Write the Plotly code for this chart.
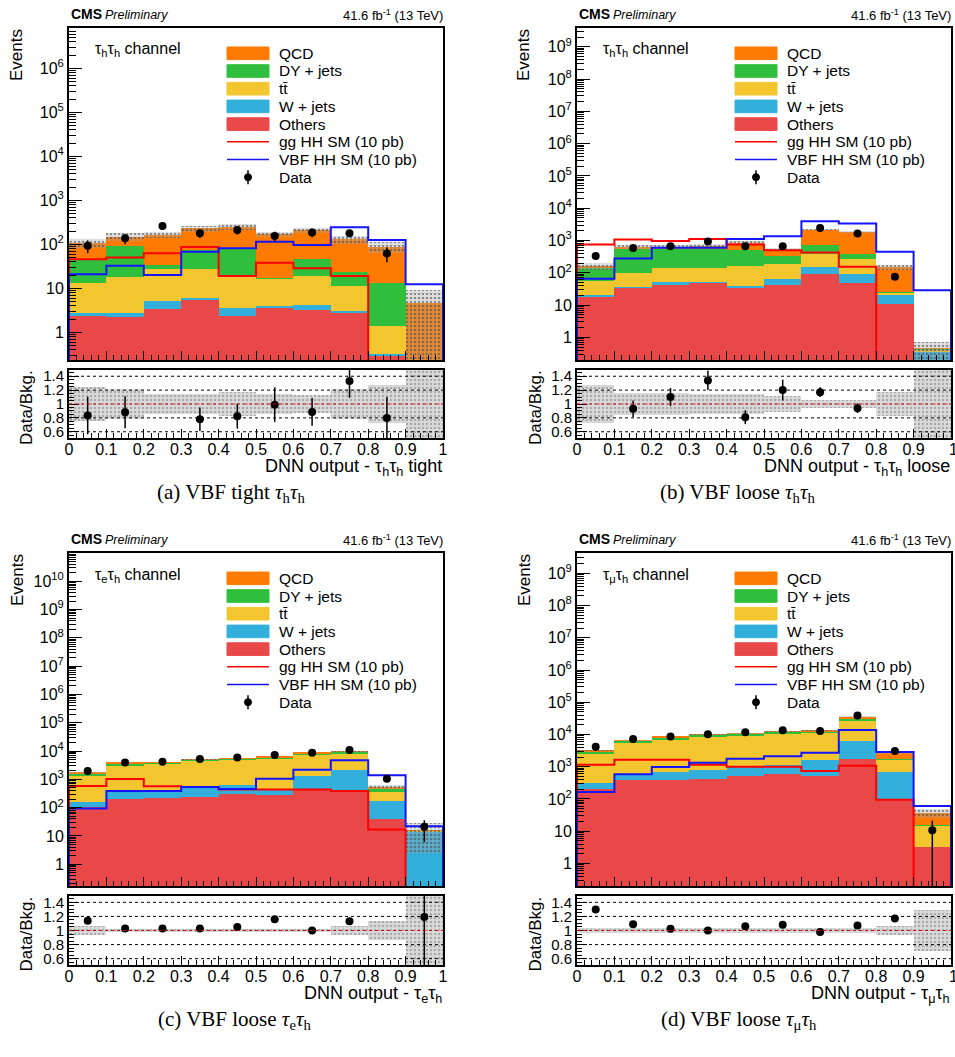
import plotly.graph_objects as go

W, H = 955, 1057

# ---------------- data ----------------
bin_edges = [0.0, 0.1, 0.2, 0.3, 0.4, 0.5, 0.6, 0.7, 0.8, 0.9, 1.0]
bin_centers = [0.05, 0.15, 0.25, 0.35, 0.45, 0.55, 0.65, 0.75, 0.85, 0.95]
x_tick_labels = ["0", "0.1", "0.2", "0.3", "0.4", "0.5", "0.6", "0.7", "0.8", "0.9", "1"]
ratio_tick_vals = [0.6, 0.8, 1.0, 1.2, 1.4]
ratio_tick_labels = ["0.6", "0.8", "1", "1.2", "1.4"]

process_names = ["Others", "W + jets", "tt\u0304", "DY + jets", "QCD"]
process_colors = ["#e84848", "#33afdc", "#f3c52f", "#2fbf3d", "#ff7a00"]

# (a) VBF tight tau_h tau_h
a_others = [2.35, 2.27, 3.45, 5.6, 2.4, 3.5, 3.3, 2.85, 0.3, 0]
a_wjets = [0.35, 0.43, 1.75, 0.5, 1.2, 0.46, 0.9, 0.25, 0.02, 0]
a_ttbar = [10.7, 15.7, 21.8, 21.9, 15.4, 12.8, 14.8, 8.2, 1.1, 0]
a_dy = [32.2, 73.6, 7.0, 46, 59, 0.7, 27, 12.7, 12.0, 0]
a_qcd = [63, 57, 129, 156, 174, 151, 166, 106, 75, 4.6]
a_gghh = [46, 50, 63, 87, 19, 38, 28.5, 19, 0, 0]
a_vbfhh = [20.8, 32.7, 20, 68, 81, 115, 97, 244, 126, 12.3]
a_data = [93, 137, 260, 178, 212, 155, 187, 178, 62, None]
a_data_err = [30, 36, 47, 39, 46, 39, 42, 32, 23, 0]
a_unc = [0.24, 0.21, 0.15, 0.15, 0.17, 0.15, 0.13, 0.21, 0.27, 1.0]
a_ratio = [0.834, 0.88, None, 0.78, 0.825, 0.99, 0.886, 1.33, 0.80, None]
a_ratio_err = [0.27, 0.23, 0, 0.17, 0.18, 0.25, 0.20, 0.24, 0.30, 0]

# (b) VBF loose tau_h tau_h
b_others = [19, 35, 41.5, 49, 36, 41.5, 91, 50, 10.7, 0]
b_wjets = [1, 1, 10.5, 2, 4, 23.5, 55, 45, 9.3, 0.36]
b_ttbar = [37, 64, 93, 94, 128, 129, 249, 165, 4.5, 0.07]
b_dy = [93, 460, 415, 415, 357, 131, 320, 115, 1, 0.01]
b_qcd = [14, 70, 70, 120, 340, 200, 1465, 1475, 127.5, 0.02]
b_gghh = [750, 1070, 970, 1120, 750, 500, 425, 153, 0, 0]
b_vbfhh = [66, 275, 600, 600, 1120, 1350, 3950, 3350, 445, 29]
b_data = [330, 590, 665, 930, 665, 665, 2450, 1650, 75, None]
b_data_err = [33, 76, 82, 95, 87, 79, 150, 130, 15, 0]
b_unc = [0.27, 0.16, 0.16, 0.15, 0.14, 0.12, 0.06, 0.06, 0.18, 0.6]
b_ratio = [None, 0.93, 1.10, 1.34, 0.81, 1.20, 1.17, 0.94, None, None]
b_ratio_err = [0, 0.12, 0.13, 0.14, 0.10, 0.15, 0.07, 0.07, 0, 0]

# (c) VBF loose tau_e tau_h
c_others = [107, 210, 227, 240, 300, 270, 470, 410, 39, 0]
c_wjets = [53, 150, 163, 300, 320, 165, 810, 1790, 131, 14]
c_ttbar = [1120, 2520, 3160, 3910, 4430, 5215, 6120, 5800, 190, 1]
c_dy = [310, 670, 400, 450, 450, 350, 1100, 1300, 110, 0.5]
c_qcd = [140, 250, 150, 200, 100, 250, 200, 400, 70, 0.5]
c_gghh = [585, 1030, 570, 540, 435, 435, 435, 390, 17, 0]
c_vbfhh = [93, 390, 390, 540, 460, 1050, 2200, 4700, 1390, 22]
c_data = [1970, 3910, 4220, 5250, 5880, 7250, 8700, 10960, 1050, 21]
c_data_err = [45, 63, 65, 72, 77, 85, 93, 105, 32, 15]
c_unc = [0.07, 0.025, 0.025, 0.025, 0.025, 0.02, 0.02, 0.06, 0.14, 0.85]
c_ratio = [1.14, 1.03, 1.03, 1.03, 1.05, 1.16, 1.00, 1.13, None, 1.19]
c_ratio_err = [0.025, 0.017, 0.016, 0.014, 0.014, 0.014, 0.011, 0.011, 0, 0.9]

# (d) VBF loose tau_mu tau_h
d_others = [209, 400, 400, 425, 500, 580, 500, 1730, 95, 3.3]
d_wjets = [101, 180, 290, 385, 480, 520, 1080, 4770, 595, 0]
d_ttbar = [2190, 4820, 6510, 7890, 8320, 9900, 9920, 20500, 960, 11.7]
d_dy = [550, 1100, 900, 1100, 1200, 1000, 1200, 2500, 150, 0.3]
d_qcd = [150, 200, 300, 400, 500, 500, 300, 6500, 850, 21.7]
d_gghh = [1150, 1650, 1650, 1150, 1000, 990, 740, 1070, 95, 0]
d_vbfhh = [165, 580, 980, 1320, 1780, 2100, 2700, 13800, 2850, 61]
d_data = [4160, 7300, 8610, 10200, 11660, 13500, 12740, 38500, 3100, 10.7]
d_data_err = [130, 85, 93, 100, 108, 116, 113, 196, 130, 10.6]
d_unc = [0.03, 0.03, 0.03, 0.03, 0.03, 0.03, 0.03, 0.03, 0.06, 0.29]
d_ratio = [1.30, 1.09, 1.025, 1.0, 1.06, 1.08, 0.98, 1.07, 1.17, None]
d_ratio_err = [0.04, 0.013, 0.011, 0.01, 0.01, 0.009, 0.009, 0.005, 0.05, 0]

# ---------------- layout geometry (pixels) ----------------
FONT = "Liberation Sans, Arial, sans-serif"
SERIF = "Liberation Serif, Times New Roman, serif"


def fx(x):
    return x / W


def fy(y):
    return 1 - y / H


panels = [
    dict(n=1, x0=69, x1=443, m0=28, m1=360, r0=370, r1=438, ylog=(-0.63, 6.92), dmax=6,
         comps=[a_others, a_wjets, a_ttbar, a_dy, a_qcd], gg=a_gghh, vbf=a_vbfhh,
         data=a_data, derr=a_data_err, unc=a_unc, ratio=a_ratio, rerr=a_ratio_err,
         chan="τ<sub>h</sub>τ<sub>h</sub> channel",
         xtitle="DNN output - τ<sub>h</sub>τ<sub>h</sub> tight",
         caption="(a) VBF tight <i>τ</i><sub>h</sub><i>τ</i><sub>h</sub>", capx=231),
    dict(n=3, x0=577, x1=951, m0=28, m1=360, r0=370, r1=438, ylog=(-0.70, 9.58), dmax=9,
         comps=[b_others, b_wjets, b_ttbar, b_dy, b_qcd], gg=b_gghh, vbf=b_vbfhh,
         data=b_data, derr=b_data_err, unc=b_unc, ratio=b_ratio, rerr=b_ratio_err,
         chan="τ<sub>h</sub>τ<sub>h</sub> channel",
         xtitle="DNN output - τ<sub>h</sub>τ<sub>h</sub> loose",
         caption="(b) VBF loose <i>τ</i><sub>h</sub><i>τ</i><sub>h</sub>", capx=737),
    dict(n=5, x0=69, x1=443, m0=553, m1=886, r0=896, r1=965, ylog=(-0.77, 11.0), dmax=10,
         comps=[c_others, c_wjets, c_ttbar, c_dy, c_qcd], gg=c_gghh, vbf=c_vbfhh,
         data=c_data, derr=c_data_err, unc=c_unc, ratio=c_ratio, rerr=c_ratio_err,
         chan="τ<sub>e</sub>τ<sub>h</sub> channel",
         xtitle="DNN output - τ<sub>e</sub>τ<sub>h</sub>",
         caption="(c) VBF loose <i>τ</i><sub>e</sub><i>τ</i><sub>h</sub>", capx=234),
    dict(n=7, x0=577, x1=951, m0=553, m1=886, r0=896, r1=965, ylog=(-0.70, 9.63), dmax=9,
         comps=[d_others, d_wjets, d_ttbar, d_dy, d_qcd], gg=d_gghh, vbf=d_vbfhh,
         data=d_data, derr=d_data_err, unc=d_unc, ratio=d_ratio, rerr=d_ratio_err,
         chan="τ<sub>μ</sub>τ<sub>h</sub> channel",
         xtitle="DNN output - τ<sub>μ</sub>τ<sub>h</sub>",
         caption="(d) VBF loose <i>τ</i><sub>μ</sub><i>τ</i><sub>h</sub>", capx=739),
]

fig = go.Figure()
layout = dict(
    width=W, height=H, margin=dict(l=0, r=0, t=0, b=0, autoexpand=False),
    paper_bgcolor="white", plot_bgcolor="white",
    showlegend=False, barmode="stack", bargap=0,
    font=dict(family=FONT, color="black", size=15),
)
shapes = []
annotations = []

tickfont = dict(family=FONT, size=16, color="black")
rtickfont = dict(family=FONT, size=15, color="black")
x_minor = [round(i * 0.02, 2) for i in range(51) if i % 5 != 0]


def step_xy(vals, floor):
    xs = [0.0, 0.0] + bin_edges[1:] + [1.0]
    v = [max(x, floor) for x in vals]
    ys = [floor, v[0]] + v[1:] + [v[-1], floor]
    return xs, ys


for p in panels:
    n = p["n"]
    m, r = n, n + 1
    xm, ym = f"x{m}", f"y{m}"
    xr, yr = f"x{r}", f"y{r}"
    floor = 10 ** (p["ylog"][0] - 1)

    # stacked backgrounds
    for name, col, vals in zip(process_names, process_colors, p["comps"]):
        fig.add_trace(go.Bar(x=bin_centers, y=vals, width=0.1, name=name,
                             marker=dict(color=col, line=dict(width=0)),
                             xaxis=xm, yaxis=ym))
    total = [sum(c[i] for c in p["comps"]) for i in range(10)]
    base = [max(t * (1 - u), t * 1e-3) for t, u in zip(total, p["unc"])]
    top = [t * (1 + u) for t, u in zip(total, p["unc"])]
    fig.add_trace(go.Bar(x=bin_centers, y=[tp - b for tp, b in zip(top, base)], base=base,
                         width=0.1, name="Bkg. unc.",
                         marker=dict(color="rgba(150,150,150,0.35)", line=dict(width=0),
                                     pattern=dict(shape=".", fillmode="replace",
                                                  bgcolor="rgba(170,170,170,0.35)",
                                                  fgcolor="rgba(70,70,70,0.55)",
                                                  size=4, solidity=0.35)),
                         xaxis=xm, yaxis=ym))
    # signals
    gx, gy = step_xy(p["gg"], floor)
    fig.add_trace(go.Scatter(x=gx, y=gy, mode="lines", line=dict(color="#ff0000", width=2, shape="hv"),
                             name="gg HH SM (10 pb)", xaxis=xm, yaxis=ym))
    vx, vy = step_xy(p["vbf"], floor)
    fig.add_trace(go.Scatter(x=vx, y=vy, mode="lines", line=dict(color="#1414ff", width=2, shape="hv"),
                             name="VBF HH SM (10 pb)", xaxis=xm, yaxis=ym))
    # data
    fig.add_trace(go.Scatter(x=bin_centers, y=p["data"], mode="markers", name="Data",
                             marker=dict(color="black", size=8),
                             error_y=dict(type="data", array=p["derr"], color="black", thickness=1.5, width=0),
                             xaxis=xm, yaxis=ym))

    # ratio band + points
    rb = [1 - u for u in p["unc"]]
    fig.add_trace(go.Bar(x=bin_centers, y=[2 * u for u in p["unc"]], base=rb, width=0.1,
                         marker=dict(color="rgba(205,205,205,0.8)", line=dict(width=0),
                                     pattern=dict(shape=".", fillmode="replace",
                                                  bgcolor="rgba(212,212,212,0.85)",
                                                  fgcolor="rgba(150,150,150,0.7)",
                                                  size=4, solidity=0.3)),
                         xaxis=xr, yaxis=yr))
    fig.add_trace(go.Scatter(x=bin_centers, y=p["ratio"], mode="markers",
                             marker=dict(color="black", size=8),
                             error_y=dict(type="data", array=p["rerr"], color="black", thickness=1.5, width=0),
                             xaxis=xr, yaxis=yr))

    # axes
    xd = [fx(p["x0"]), fx(p["x1"])]
    decades = list(range(0, p["dmax"] + 1))
    yt_vals = [10 ** d for d in decades]
    yt_text = ["1", "10"] + [f"10<sup>{d}</sup>" for d in decades[2:]]
    minor_vals = [k * 10 ** d for d in range(-1, p["dmax"] + 2) for k in range(2, 10)]
    common = dict(showline=True, mirror=True, linewidth=2, linecolor="black", automargin=False,
                  showgrid=False, zeroline=False, tickcolor="black")
    right_panel = p["x0"] > 300
    layout[f"xaxis{m}"] = dict(domain=xd, anchor=ym, range=[0, 1], tickmode="array",
                               tickvals=bin_edges, showticklabels=False, ticks="inside", ticklen=9,
                               tickfont=tickfont,
                               minor=dict(tickmode="array", tickvals=x_minor, ticks="inside",
                                          ticklen=5, tickcolor="black"), **common)
    layout[f"yaxis{m}"] = dict(domain=[fy(p["m1"]), fy(p["m0"])], anchor=xm, type="log",
                               range=list(p["ylog"]), tickmode="array", tickvals=yt_vals,
                               ticktext=yt_text, ticks="inside", ticklen=13, tickfont=tickfont,
                               minor=dict(tickmode="array", tickvals=minor_vals, ticks="inside",
                                          ticklen=7, tickcolor="black"), **common)
    xr_vals = bin_edges[:-1] if right_panel else bin_edges
    xr_text = x_tick_labels[:-1] if right_panel else x_tick_labels
    layout[f"xaxis{r}"] = dict(domain=xd, anchor=yr, range=[0, 1], tickmode="array",
                               tickvals=xr_vals, ticktext=xr_text, ticks="inside", ticklen=9,
                               tickfont=tickfont, ticklabelstandoff=-4,
                               minor=dict(tickmode="array", tickvals=x_minor + [1.0], ticks="inside",
                                          ticklen=5, tickcolor="black"), **common)
    layout[f"yaxis{r}"] = dict(domain=[fy(p["r1"]), fy(p["r0"])], anchor=xr, range=[0.51, 1.49],
                               tickmode="array", tickvals=ratio_tick_vals, ticktext=ratio_tick_labels,
                               ticks="inside", ticklen=10, tickfont=rtickfont,
                               minor=dict(tickmode="array",
                                          tickvals=[0.55, 0.65, 0.7, 0.75, 0.85, 0.9, 0.95, 1.05,
                                                    1.1, 1.15, 1.25, 1.3, 1.35, 1.45],
                                          ticks="inside", ticklen=5, tickcolor="black"), **common)
    if right_panel:
        # last tick label "1" sits on the page edge; plotly would drop it
        annotations.append(dict(x=1.0, y=0, xref=xr, yref=f"{yr} domain", xanchor="left",
                                yanchor="top", xshift=-4, yshift=-1, showarrow=False, text="1",
                                font=tickfont))

    # ratio reference lines
    for v in [0.6, 0.8, 1.2, 1.4]:
        shapes.append(dict(type="line", xref=f"{xr} domain", yref=yr, x0=0, x1=1, y0=v, y1=v,
                           line=dict(color="black", width=1, dash="dot"), layer="above"))
    shapes.append(dict(type="line", xref=f"{xr} domain", yref=yr, x0=0, x1=1, y0=1, y1=1,
                       line=dict(color="#e00000", width=1.2, dash="dot"), layer="above"))

    # header texts
    x0, x1, m0 = p["x0"], p["x1"], p["m0"]
    annotations.append(dict(x=fx(x0), y=fy(m0 - 14), xref="paper", yref="paper", xanchor="left",
                            yanchor="middle", showarrow=False, text="<b>CMS</b>",
                            font=dict(family=FONT, size=14, color="black")))
    annotations.append(dict(x=fx(x0 + 34), y=fy(m0 - 13.5), xref="paper", yref="paper", xanchor="left",
                            yanchor="middle", showarrow=False, text="<i>Preliminary</i>",
                            font=dict(family=FONT, size=12.5, color="black")))
    annotations.append(dict(x=fx(x1 + 2), y=fy(m0 - 13.5), xref="paper", yref="paper", xanchor="right",
                            yanchor="middle", showarrow=False, text="41.6 fb<sup>-1</sup> (13 TeV)",
                            font=dict(family=FONT, size=13, color="black")))
    # axis titles
    ex = 17 if x0 < 300 else 524
    annotations.append(dict(x=fx(ex), y=fy(m0 + 27), xref="paper", yref="paper", xanchor="center",
                            yanchor="middle", showarrow=False, text="Events", textangle=-90,
                            font=dict(family=FONT, size=17, color="black")))
    dx = 26 if x0 < 300 else 535
    annotations.append(dict(x=fx(dx), y=fy((p["r0"] + p["r1"]) / 2 + 4), xref="paper", yref="paper",
                            xanchor="center", yanchor="middle", showarrow=False, text="Data/Bkg.",
                            textangle=-90, font=dict(family=FONT, size=17, color="black")))
    annotations.append(dict(x=fx(x1 + 1), y=fy(p["r1"] + 29), xref="paper", yref="paper", xanchor="right",
                            yanchor="middle", showarrow=False, text=p["xtitle"],
                            font=dict(family=FONT, size=18, color="black")))
    annotations.append(dict(x=fx(p["capx"]), y=fy(p["r1"] + 55), xref="paper", yref="paper",
                            xanchor="center", yanchor="middle", showarrow=False, text=p["caption"],
                            font=dict(family=SERIF, size=21, color="black")))
    # channel label
    annotations.append(dict(x=fx(x0 + 24), y=fy(m0 + 22), xref="paper", yref="paper", xanchor="left",
                            yanchor="middle", showarrow=False, text=p["chan"],
                            font=dict(family=FONT, size=16, color="black")))

    # legend
    bx0, bx1, tx = x0 + 158, x0 + 200, x0 + 208
    rows = [m0 + 25.3 + 17.7 * i for i in range(8)]
    leg_names = ["QCD", "DY + jets", "tt\u0304", "W + jets", "Others"]
    leg_cols = process_colors[::-1]
    for i, (nm, col) in enumerate(zip(leg_names, leg_cols)):
        yc = rows[i]
        shapes.append(dict(type="rect", xref="paper", yref="paper", x0=fx(bx0), x1=fx(bx1),
                           y0=fy(yc + 6.3), y1=fy(yc - 6.3), fillcolor=col,
                           line=dict(color=col, width=1)))
        annotations.append(dict(x=fx(tx), y=fy(yc), xref="paper", yref="paper", xanchor="left",
                                yanchor="middle", showarrow=False, text=nm,
                                font=dict(family=FONT, size=15.5, color="black")))
    for i, (nm, col) in enumerate([("gg HH SM (10 pb)", "#ff0000"), ("VBF HH SM (10 pb)", "#1414ff")]):
        yc = rows[5 + i]
        shapes.append(dict(type="line", xref="paper", yref="paper", x0=fx(bx0), x1=fx(bx1),
                           y0=fy(yc), y1=fy(yc), line=dict(color=col, width=1.5)))
        annotations.append(dict(x=fx(tx), y=fy(yc), xref="paper", yref="paper", xanchor="left",
                                yanchor="middle", showarrow=False, text=nm,
                                font=dict(family=FONT, size=15.5, color="black")))
    yc = rows[7]
    cx = (bx0 + bx1) / 2
    shapes.append(dict(type="line", xref="paper", yref="paper", x0=fx(cx), x1=fx(cx),
                       y0=fy(yc + 7), y1=fy(yc - 7), line=dict(color="black", width=1.5)))
    shapes.append(dict(type="circle", xref="paper", yref="paper", x0=fx(cx - 3.5), x1=fx(cx + 3.5),
                       y0=fy(yc + 3.5), y1=fy(yc - 3.5), fillcolor="black", line=dict(color="black", width=1)))
    annotations.append(dict(x=fx(tx), y=fy(yc), xref="paper", yref="paper", xanchor="left",
                            yanchor="middle", showarrow=False, text="Data",
                            font=dict(family=FONT, size=15.5, color="black")))

layout["shapes"] = shapes
layout["annotations"] = annotations
fig.update_layout(**layout)
fig.write_html("out.html", config={"displayModeBar": False},
               post_script="document.body.style.margin='0px';document.body.style.padding='0px';")
